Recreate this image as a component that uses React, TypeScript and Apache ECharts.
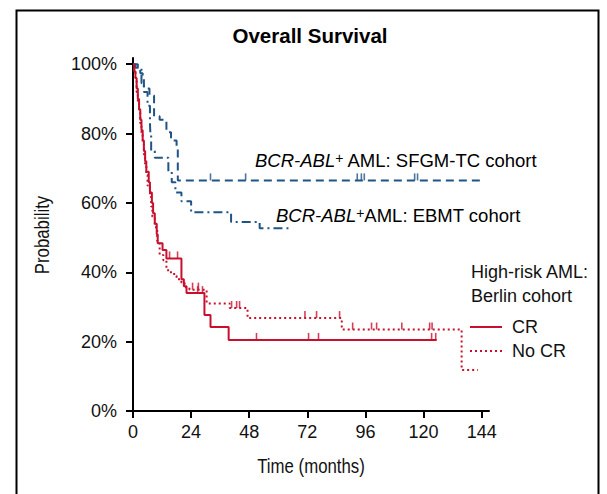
import React, { useEffect, useRef } from "react";
import * as echarts from "echarts";

// Axis ticks
const yTicks = [0, 20, 40, 60, 80, 100];
const xTicks = [0, 24, 48, 72, 96, 120, 144];

// Kaplan-Meier curves: [months, survival %]
const crCurve: [number, number][] = [
  [0, 100], [0.5, 98], [1, 96], [1.5, 93], [2, 90], [2.5, 87], [3, 84], [3.5, 81],
  [4, 78], [4.5, 75], [5, 72], [5.5, 69], [6.5, 66], [7, 63], [7.8, 60], [8.3, 57],
  [9, 54], [9.8, 51], [10.2, 48.4], [12.2, 46.4], [13.8, 44], [20, 38], [21, 36],
  [22.1, 34], [29.5, 27.7], [32, 24.2], [39.5, 20.5], [125.4, 20.5],
];
const noCrCurve: [number, number][] = [
  [0, 100], [0.5, 98], [1, 96], [1.5, 92], [2, 89], [2.5, 86], [3, 83], [3.5, 80],
  [4, 77], [4.5, 74], [5, 71], [5.5, 68], [6, 65], [7, 62], [7.5, 59], [8, 56],
  [9, 53], [10, 49], [11, 45], [12.5, 43.5], [13.8, 41], [14.5, 40], [17, 39],
  [18, 38], [20, 37], [21.3, 35.7], [23.3, 35], [30.4, 31], [39.9, 29.7],
  [47.3, 26.8], [86.2, 23.5], [135.7, 11.8], [142.4, 11.8],
];
const sfgmCurve: [number, number][] = [
  [0, 100], [1, 99], [3, 97.4], [4, 96], [4.5, 93], [6.8, 91], [8.7, 85], [11, 84],
  [13.8, 80.4], [15.7, 78], [18, 76], [18.5, 66.5], [144, 66.5],
];
const ebmtCurve: [number, number][] = [
  [0, 100], [2, 99], [3.5, 94.5], [4.5, 92], [6, 88], [7, 83], [7.2, 79.5], [7.5, 75],
  [9, 73], [14.6, 69], [16, 66], [17.5, 63], [20, 60.5], [24, 57.3], [40.5, 54.5],
  [52.3, 52.7], [65.8, 52.7],
];

// Censor marks
const crCensor: [number, number][] = [
  [15.1, 44], [18.4, 44], [26.7, 34], [28.7, 34], [51, 20.5], [72.5, 20.5],
  [76.6, 20.5], [123.3, 20.5], [125, 20.5],
];
const noCrCensor: [number, number][] = [
  [24.6, 35], [27, 35], [40.7, 29.7], [42.8, 29.7], [44, 29.7], [71, 26.8],
  [75.8, 26.8], [85.3, 26.8], [90.7, 23.5], [98.5, 23.5], [100.6, 23.5],
  [111, 23.5], [122.5, 23.5], [123.5, 23.5],
];
const sfgmCensor: [number, number][] = [
  [32, 66.5], [46.5, 66.5], [92.6, 66.5], [94.3, 66.5], [95.5, 66.5],
  [116.3, 66.5], [117.5, 66.5],
];

const RED = "#c8102e";
const BLUE = "#1f5487";
const FONT = "'Liberation Sans', Arial, Helvetica, sans-serif";

export default function App() {
  const ref = useRef<HTMLDivElement>(null);
  useEffect(() => {
    if (!ref.current) return;
    const chart = echarts.init(ref.current, undefined, { renderer: "svg" });
    const censor = (data: [number, number][], color: string) => ({
      type: "scatter",
      data,
      symbol: "rect",
      symbolSize: [1.6, 7],
      symbolOffset: [0, -3.5],
      itemStyle: { color },
      silent: true,
      z: 3,
    });
    const labelRich = {
      i: { fontStyle: "italic", fontSize: 18.5, fontFamily: FONT, color: "#111" },
      s: { fontSize: 14, fontFamily: FONT, color: "#111", verticalAlign: "top" },
      n: { fontSize: 18.5, fontFamily: FONT, color: "#111" },
    };
    chart.setOption({
      animation: false,
      backgroundColor: "#fff",
      grid: { left: 133, top: 58, right: 118, bottom: 83 },
      xAxis: {
        type: "value",
        min: 0,
        max: 147,
        axisLine: { show: true, onZero: false, lineStyle: { color: "#000", width: 2 } },
        axisTick: { show: true, length: 7, lineStyle: { color: "#000", width: 2 }, customValues: xTicks },
        axisLabel: { fontSize: 18, fontFamily: FONT, color: "#111", margin: 12, customValues: xTicks },
        splitLine: { show: false },
      },
      yAxis: {
        type: "value",
        min: 0,
        max: 101.8,
        axisLine: { show: true, onZero: false, lineStyle: { color: "#000", width: 2 } },
        axisTick: { show: true, length: 7, lineStyle: { color: "#000", width: 2 }, customValues: yTicks },
        axisLabel: {
          fontSize: 18, fontFamily: FONT, color: "#111", margin: 16, customValues: yTicks,
          formatter: (v: number) => `${v}%`,
        },
        splitLine: { show: false },
      },
      series: [
        {
          type: "line", step: "end", data: ebmtCurve, showSymbol: false, silent: true,
          lineStyle: { color: BLUE, width: 2, type: [9, 4, 2, 4] }, z: 2,
        },
        {
          type: "line", step: "end", data: sfgmCurve, showSymbol: false, silent: true,
          lineStyle: { color: BLUE, width: 2, type: [8, 5] }, z: 2,
        },
        {
          type: "line", step: "end", data: noCrCurve, showSymbol: false, silent: true,
          lineStyle: { color: RED, width: 2, type: [2, 3] }, z: 2,
        },
        {
          type: "line", step: "end", data: crCurve, showSymbol: false, silent: true,
          lineStyle: { color: RED, width: 2, type: "solid" }, z: 2,
        },
        censor(crCensor, RED),
        censor(noCrCensor, RED),
        censor(sfgmCensor, BLUE),
      ],
      graphic: [
        {
          type: "rect", left: 14, top: 8, silent: true,
          shape: { width: 582, height: 520 },
          style: { fill: "none", stroke: "#000", lineWidth: 2 },
        },
        {
          type: "text", x: 310, y: 35, silent: true,
          style: {
            text: "Overall Survival", fontSize: 20.5, fontWeight: "bold", fontFamily: FONT,
            fill: "#000", align: "center", verticalAlign: "middle",
          },
        },
        {
          type: "text", x: 311, y: 466, scaleX: 0.84, silent: true,
          style: {
            text: "Time (months)", fontSize: 20, fontFamily: FONT,
            fill: "#111", align: "center", verticalAlign: "middle",
          },
        },
        {
          type: "text", x: 42, y: 235, rotation: Math.PI / 2, scaleX: 0.84, silent: true,
          style: {
            text: "Probability", fontSize: 20, fontFamily: FONT,
            fill: "#111", align: "center", verticalAlign: "middle",
          },
        },
        {
          type: "text", x: 255, y: 160, silent: true,
          style: {
            text: "{i|BCR-ABL}{s|+}{n| AML: SFGM-TC cohort}", rich: labelRich,
            align: "left", verticalAlign: "middle",
          },
        },
        {
          type: "text", x: 276, y: 215, silent: true,
          style: {
            text: "{i|BCR-ABL}{s|+}{n|AML: EBMT cohort}", rich: labelRich,
            align: "left", verticalAlign: "middle",
          },
        },
        {
          type: "text", x: 471, y: 272, silent: true,
          style: {
            text: "High-risk AML:", fontSize: 18, fontFamily: FONT, fill: "#111",
            align: "left", verticalAlign: "middle",
          },
        },
        {
          type: "text", x: 471, y: 296, silent: true,
          style: {
            text: "Berlin cohort", fontSize: 18, fontFamily: FONT, fill: "#111",
            align: "left", verticalAlign: "middle",
          },
        },
        {
          type: "line", silent: true,
          shape: { x1: 470, y1: 327, x2: 502, y2: 327 },
          style: { stroke: RED, lineWidth: 2 },
        },
        {
          type: "text", x: 512, y: 327, silent: true,
          style: {
            text: "CR", fontSize: 18, fontFamily: FONT, fill: "#111",
            align: "left", verticalAlign: "middle",
          },
        },
        {
          type: "line", silent: true,
          shape: { x1: 470, y1: 351, x2: 502, y2: 351 },
          style: { stroke: RED, lineWidth: 2, lineDash: [2, 3] },
        },
        {
          type: "text", x: 512, y: 351, silent: true,
          style: {
            text: "No CR", fontSize: 18, fontFamily: FONT, fill: "#111",
            align: "left", verticalAlign: "middle",
          },
        },
      ],
    });
    return () => chart.dispose();
  }, []);
  return (
    <div
      ref={ref}
      style={{ position: "fixed", left: 0, top: 0, width: 607, height: 494 }}
    />
  );
}
